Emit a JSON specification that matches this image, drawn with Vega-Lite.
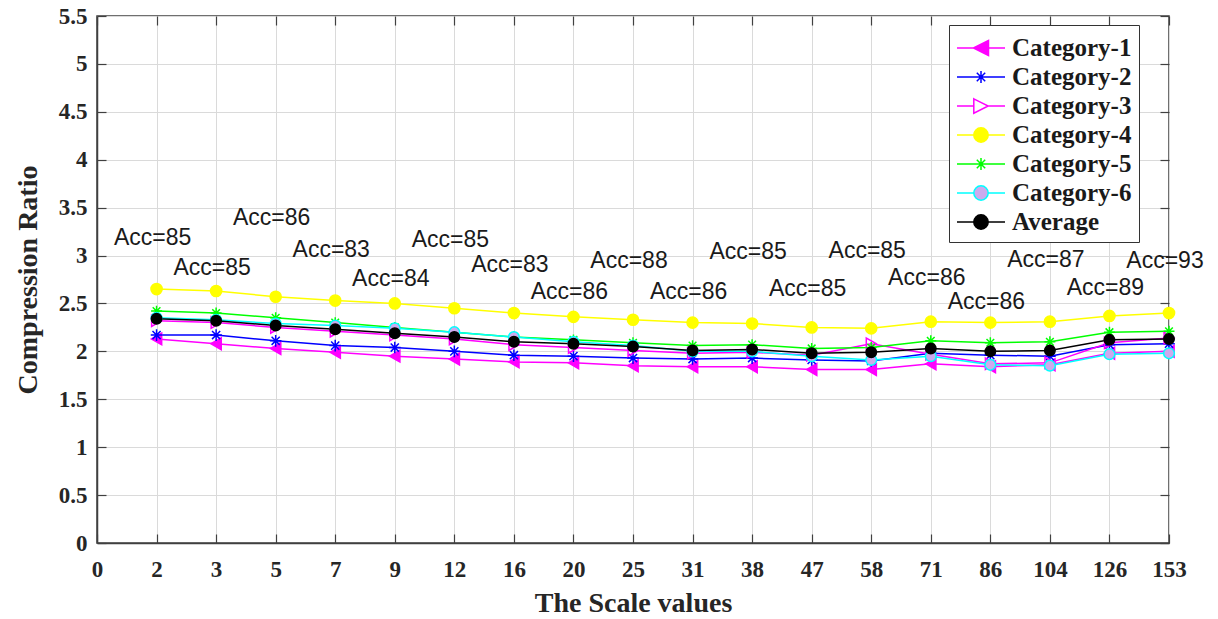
{
  "$schema": "https://vega.github.io/schema/vega-lite/v6.json",
  "width": 1072,
  "height": 527,
  "autosize": {"type": "none"},
  "padding": {"left": 97, "top": 16, "right": 49, "bottom": 76},
  "background": "white",
  "config": {
    "view": {"stroke": "#404040", "strokeWidth": 1.5},
    "axis": {
      "labelFont": "Liberation Serif", "labelFontWeight": "bold", "labelFontSize": 23, "labelColor": "#262626",
      "titleFont": "Liberation Serif", "titleFontWeight": "bold", "titleFontSize": 28, "titleColor": "#262626",
      "domainColor": "#404040", "domainWidth": 1.5, "tickColor": "#404040", "tickSize": -9, "tickWidth": 1.2,
      "gridColor": "#DADADA", "gridWidth": 1
    },
    "legend": {
      "orient": "none", "legendX": 852, "legendY": 9,
      "fillColor": "white", "strokeColor": "#333333", "padding": 7,
      "labelFont": "Liberation Serif", "labelFontWeight": "bold", "labelFontSize": 25, "labelColor": "#1a1a1a",
      "symbolSize": 900, "symbolStrokeWidth": 1.5, "rowPadding": 0, "labelOffset": 24
    }
  },
  "datasets": {
    "ratios": [
      {"scale": "2", "Category-1": 2.13, "Category-2": 2.17, "Category-3": 2.32, "Category-4": 2.65, "Category-5": 2.42, "Category-6": 2.35, "Average": 2.34},
      {"scale": "3", "Category-1": 2.08, "Category-2": 2.17, "Category-3": 2.30, "Category-4": 2.63, "Category-5": 2.40, "Category-6": 2.33, "Average": 2.32},
      {"scale": "5", "Category-1": 2.03, "Category-2": 2.11, "Category-3": 2.25, "Category-4": 2.57, "Category-5": 2.35, "Category-6": 2.29, "Average": 2.27},
      {"scale": "7", "Category-1": 1.99, "Category-2": 2.06, "Category-3": 2.21, "Category-4": 2.53, "Category-5": 2.30, "Category-6": 2.27, "Average": 2.23},
      {"scale": "9", "Category-1": 1.95, "Category-2": 2.04, "Category-3": 2.17, "Category-4": 2.50, "Category-5": 2.25, "Category-6": 2.24, "Average": 2.19},
      {"scale": "12", "Category-1": 1.92, "Category-2": 2.00, "Category-3": 2.13, "Category-4": 2.45, "Category-5": 2.20, "Category-6": 2.20, "Average": 2.15},
      {"scale": "16", "Category-1": 1.89, "Category-2": 1.96, "Category-3": 2.07, "Category-4": 2.40, "Category-5": 2.15, "Category-6": 2.15, "Average": 2.10},
      {"scale": "20", "Category-1": 1.88, "Category-2": 1.95, "Category-3": 2.04, "Category-4": 2.36, "Category-5": 2.12, "Category-6": 2.10, "Average": 2.08},
      {"scale": "25", "Category-1": 1.85, "Category-2": 1.93, "Category-3": 2.01, "Category-4": 2.33, "Category-5": 2.09, "Category-6": 2.06, "Average": 2.05},
      {"scale": "31", "Category-1": 1.84, "Category-2": 1.92, "Category-3": 1.98, "Category-4": 2.30, "Category-5": 2.06, "Category-6": 2.00, "Average": 2.01},
      {"scale": "38", "Category-1": 1.84, "Category-2": 1.93, "Category-3": 1.99, "Category-4": 2.29, "Category-5": 2.07, "Category-6": 2.00, "Average": 2.02},
      {"scale": "47", "Category-1": 1.81, "Category-2": 1.91, "Category-3": 1.96, "Category-4": 2.25, "Category-5": 2.03, "Category-6": 1.95, "Average": 1.98},
      {"scale": "58", "Category-1": 1.81, "Category-2": 1.90, "Category-3": 2.08, "Category-4": 2.24, "Category-5": 2.04, "Category-6": 1.91, "Average": 1.99},
      {"scale": "71", "Category-1": 1.87, "Category-2": 1.98, "Category-3": 1.97, "Category-4": 2.31, "Category-5": 2.11, "Category-6": 1.95, "Average": 2.03},
      {"scale": "86", "Category-1": 1.84, "Category-2": 1.96, "Category-3": 1.87, "Category-4": 2.30, "Category-5": 2.09, "Category-6": 1.86, "Average": 2.00},
      {"scale": "104", "Category-1": 1.86, "Category-2": 1.95, "Category-3": 1.88, "Category-4": 2.31, "Category-5": 2.10, "Category-6": 1.85, "Average": 2.01},
      {"scale": "126", "Category-1": 1.98, "Category-2": 2.07, "Category-3": 2.09, "Category-4": 2.37, "Category-5": 2.20, "Category-6": 1.97, "Average": 2.12},
      {"scale": "153", "Category-1": 2.00, "Category-2": 2.08, "Category-3": 2.14, "Category-4": 2.40, "Category-5": 2.21, "Category-6": 1.98, "Average": 2.13}
    ],
    "acc": [
      {"scale": "2", "y": 3.18, "label": "Acc=85"},
      {"scale": "3", "y": 2.87, "label": "Acc=85"},
      {"scale": "5", "y": 3.39, "label": "Acc=86"},
      {"scale": "7", "y": 3.06, "label": "Acc=83"},
      {"scale": "9", "y": 2.76, "label": "Acc=84"},
      {"scale": "12", "y": 3.16, "label": "Acc=85"},
      {"scale": "16", "y": 2.90, "label": "Acc=83"},
      {"scale": "20", "y": 2.62, "label": "Acc=86"},
      {"scale": "25", "y": 2.94, "label": "Acc=88"},
      {"scale": "31", "y": 2.62, "label": "Acc=86"},
      {"scale": "38", "y": 3.04, "label": "Acc=85"},
      {"scale": "47", "y": 2.65, "label": "Acc=85"},
      {"scale": "58", "y": 3.05, "label": "Acc=85"},
      {"scale": "71", "y": 2.77, "label": "Acc=86"},
      {"scale": "86", "y": 2.52, "label": "Acc=86"},
      {"scale": "104", "y": 2.95, "label": "Acc=87"},
      {"scale": "126", "y": 2.66, "label": "Acc=89"},
      {"scale": "153", "y": 2.94, "label": "Acc=93"}
    ]
  },
  "layer": [
    {
      "data": {"name": "ratios"},
      "transform": [{"fold": ["Category-1", "Category-2", "Category-3", "Category-4", "Category-5", "Category-6", "Average"], "as": ["series", "ratio"]}],
      "mark": {"type": "line", "strokeWidth": 1.5},
      "encoding": {
        "x": {"field": "scale", "type": "ordinal", "sort": null,
              "scale": {"type": "point", "padding": 0, "domain": ["0", "2", "3", "5", "7", "9", "12", "16", "20", "25", "31", "38", "47", "58", "71", "86", "104", "126", "153"]},
              "axis": {"orient": "bottom", "grid": true, "title": "The Scale values", "labelAngle": 0, "labelPadding": 24, "titlePadding": 8}},
        "y": {"field": "ratio", "type": "quantitative",
              "scale": {"domain": [0, 5.5], "nice": false, "zero": true},
              "axis": {"orient": "left", "grid": true, "values": [0, 0.5, 1, 1.5, 2, 2.5, 3, 3.5, 4, 4.5, 5, 5.5], "format": ".1~f", "title": "Compression Ratio", "labelPadding": 19, "titlePadding": 16}},
        "stroke": {"field": "series", "type": "nominal",
                   "scale": {"domain": ["Category-1", "Category-2", "Category-3", "Category-4", "Category-5", "Category-6", "Average"],
                             "range": ["#FF00FF", "#0000FF", "#FF00FF", "#FFFF00", "#00FF00", "#00FFFF", "#000000"]},
                   "legend": null},
        "detail": {"field": "series"}
      }
    },
    {
      "data": {"name": "ratios"},
      "transform": [{"fold": ["Category-1", "Category-2", "Category-3", "Category-4", "Category-5", "Category-6", "Average"], "as": ["series", "ratio"]}],
      "mark": {"type": "point", "opacity": 1, "strokeWidth": 1.5},
      "encoding": {
        "x": {"field": "scale", "type": "ordinal", "sort": null,
              "axis": {"orient": "top", "grid": false, "labels": false, "domain": false, "title": null}},
        "y": {"field": "ratio", "type": "quantitative",
              "axis": {"orient": "right", "grid": false, "labels": false, "domain": false, "title": null, "values": [0, 0.5, 1, 1.5, 2, 2.5, 3, 3.5, 4, 4.5, 5, 5.5]}},
        "shape": {"field": "series", "type": "nominal",
                  "scale": {"domain": ["Category-1", "Category-2", "Category-3", "Category-4", "Category-5", "Category-6", "Average"],
                            "range": ["triangle-left", "M-1,0L1,0M0,-1L0,1M-0.7,-0.7L0.7,0.7M-0.7,0.7L0.7,-0.7", "triangle-right", "circle", "M-1,0L1,0M0,-1L0,1M-0.7,-0.7L0.7,0.7M-0.7,0.7L0.7,-0.7", "circle", "circle"]},
                  "legend": null},
        "stroke": {"field": "series", "type": "nominal",
                   "scale": {"domain": ["Category-1", "Category-2", "Category-3", "Category-4", "Category-5", "Category-6", "Average"],
                             "range": ["#FF00FF", "#0000FF", "#FF00FF", "#FFFF00", "#00FF00", "#00FFFF", "#000000"]},
                   "legend": null},
        "fill": {"field": "series", "type": "nominal",
                 "scale": {"domain": ["Category-1", "Category-2", "Category-3", "Category-4", "Category-5", "Category-6", "Average"],
                           "range": ["#FF00FF", "transparent", "transparent", "#FFFF00", "transparent", "#CCAAEE", "#000000"]},
                 "legend": null},
        "size": {"field": "series", "type": "nominal",
                 "scale": {"domain": ["Category-1", "Category-2", "Category-3", "Category-4", "Category-5", "Category-6", "Average"],
                           "range": [140, 110, 130, 150, 110, 130, 170]},
                 "legend": null}
      }
    },
    {
      "data": {"name": "acc"},
      "mark": {"type": "text", "font": "Liberation Sans", "fontSize": 23, "color": "#1a1a1a", "dx": -4, "baseline": "middle", "align": "center"},
      "encoding": {
        "x": {"field": "scale", "type": "ordinal", "sort": null, "axis": null},
        "y": {"field": "y", "type": "quantitative", "axis": null},
        "text": {"field": "label"}
      }
    },
    {
      "data": {"name": "ratios"},
      "transform": [{"fold": ["Category-1", "Category-2", "Category-3", "Category-4", "Category-5", "Category-6", "Average"], "as": ["series", "ratio"]}, {"filter": "datum.ratio < 0"}],
      "mark": {"type": "point", "opacity": 1, "strokeWidth": 1.5},
      "encoding": {
        "shape": {"field": "series", "type": "nominal",
                  "scale": {"domain": ["Category-1", "Category-2", "Category-3", "Category-4", "Category-5", "Category-6", "Average"],
                            "range": [
                              "M-1,0L2.2,0M0.1,0L1.1,-0.5L1.1,0.5Z",
                              "M-1,0L2.2,0M0.6,-0.4L0.6,0.4M0.32,-0.28L0.88,0.28M0.32,0.28L0.88,-0.28",
                              "M-1,0L0.12,0M1.08,0L2.2,0M0.12,-0.48L1.08,0L0.12,0.48Z",
                              "M-1,0L0.12,0M1.08,0L2.2,0M1.08,0A0.48,0.48 0 1,1 0.12,0A0.48,0.48 0 1,1 1.08,0Z",
                              "M-1,0L2.2,0M0.6,-0.4L0.6,0.4M0.32,-0.28L0.88,0.28M0.32,0.28L0.88,-0.28",
                              "M-1,0L0.12,0M1.08,0L2.2,0M1.08,0A0.48,0.48 0 1,1 0.12,0A0.48,0.48 0 1,1 1.08,0Z",
                              "M-1,0L0.12,0M1.08,0L2.2,0M1.08,0A0.48,0.48 0 1,1 0.12,0A0.48,0.48 0 1,1 1.08,0Z"
                            ]},
                  "legend": {"title": null}},
        "stroke": {"field": "series", "type": "nominal",
                   "scale": {"domain": ["Category-1", "Category-2", "Category-3", "Category-4", "Category-5", "Category-6", "Average"],
                             "range": ["#FF00FF", "#0000FF", "#FF00FF", "#FFFF00", "#00FF00", "#00FFFF", "#000000"]},
                   "legend": {"title": null}},
        "fill": {"field": "series", "type": "nominal",
                 "scale": {"domain": ["Category-1", "Category-2", "Category-3", "Category-4", "Category-5", "Category-6", "Average"],
                           "range": ["#FF00FF", "transparent", "white", "#FFFF00", "transparent", "#CCAAEE", "#000000"]},
                 "legend": {"title": null}}
      }
    }
  ],
  "resolve": {
    "scale": {"shape": "independent", "stroke": "independent", "fill": "independent", "size": "independent"},
    "axis": {"x": "independent", "y": "independent"}
  }
}
